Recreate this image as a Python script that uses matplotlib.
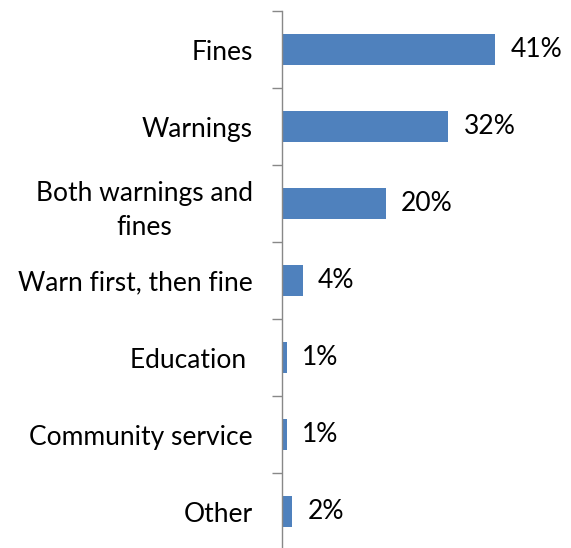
import matplotlib
matplotlib.use("Agg")
import matplotlib.pyplot as plt

categories = ["Fines", "Warnings", "Both warnings and\nfines", "Warn first, then fine",
              "Education ", "Community service", "Other"]
values = [41, 32, 20, 4, 1, 1, 2]
value_labels = ["41%", "32%", "20%", "4%", "1%", "1%", "2%"]

plt.rcParams['font.family'] = ['Lato', 'DejaVu Sans']

fig = plt.figure(figsize=(5.71, 5.48), dpi=100)
ax = fig.add_axes([282 / 571, -2 / 548, 286 / 571, 539 / 548])

pos = list(range(len(categories)))
ax.barh(pos, values, height=0.4, color='#4f81bd')
for p, v, lab in zip(pos, values, value_labels):
    ax.text(v + 2.9, p, lab, va='center', ha='left', fontsize=19)

ax.set_ylim(len(categories) - 0.5, -0.5)
ax.set_xlim(0, 55)
# category boundaries get the tick marks, names sit on minor ticks at bar centres
ax.set_yticks([p - 0.5 for p in pos] + [len(categories) - 0.5])
ax.set_yticklabels([])
ax.set_yticks(pos, minor=True)
ax.set_yticklabels(categories, minor=True, fontsize=19, multialignment='center',
                   linespacing=1.45)
ax.tick_params(axis='y', which='major', length=7.5, width=1, color='#888888', direction='out')
ax.tick_params(axis='y', which='minor', length=0, pad=21)
ax.set_xticks([])
for s in ['top', 'right', 'bottom']:
    ax.spines[s].set_visible(False)
ax.spines['left'].set_color('#888888')
ax.spines['left'].set_linewidth(1)

fig.savefig("out.png", dpi=100)
